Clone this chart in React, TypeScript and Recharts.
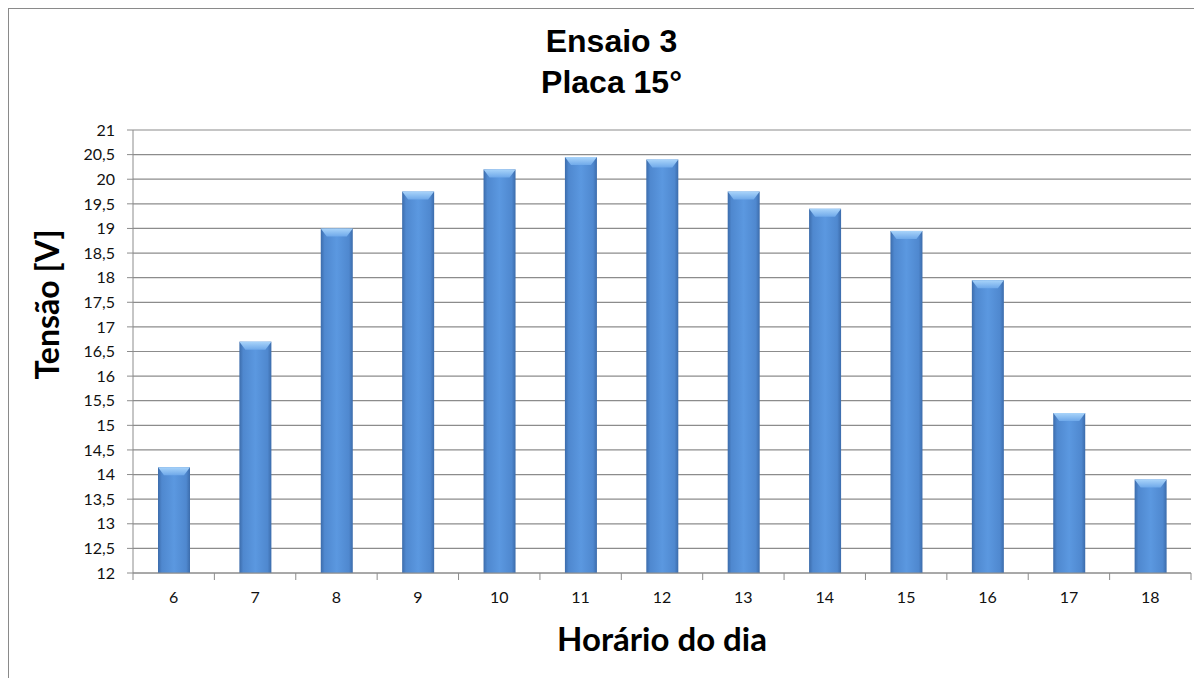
import { Bar, BarChart, CartesianGrid, XAxis, YAxis } from "recharts"

const hours = ["6", "7", "8", "9", "10", "11", "12", "13", "14", "15", "16", "17", "18"]
const tensao = [14.15, 16.7, 19.0, 19.75, 20.2, 20.45, 20.4, 19.75, 19.4, 18.95, 17.95, 15.25, 13.9]
const yTicks = [12, 12.5, 13, 13.5, 14, 14.5, 15, 15.5, 16, 16.5, 17, 17.5, 18, 18.5, 19, 19.5, 20, 20.5, 21]

const titleLines = ["Ensaio 3", "Placa 15°"]
const yTitle = "Tensão [V]"
const xTitle = "Horário do dia"

const data = hours.map((h, i) => ({ hora: h, tensao: tensao[i] }))

const GRID = "#8c8c8c"
const TICK_FONT = "Lato, 'Open Sans', sans-serif"

function GlossBar(props: any) {
  const { x, y, width, height } = props
  if (!height || height <= 0) return null
  const cap = Math.min(8, height)
  const inset = 6
  return (
    <g>
      <rect x={x} y={y} width={width} height={height} fill="url(#barGrad)" />
      <polygon
        points={`${x},${y} ${x + width},${y} ${x + width - inset},${y + cap} ${x + inset},${y + cap}`}
        fill="url(#capGrad)"
      />
    </g>
  )
}

function XTick(props: any) {
  const { x, y, payload, index, visibleTicksCount } = props
  const off = payload?.offset ?? 0
  const last = index === visibleTicksCount - 1
  return (
    <g>
      <line x1={x - off} x2={x - off} y1={y} y2={y + 7} stroke={GRID} strokeWidth={1} />
      {last && <line x1={x + off} x2={x + off} y1={y} y2={y + 7} stroke={GRID} strokeWidth={1} />}
      <text x={x} y={y + 30} textAnchor="middle" fontSize={16} fontFamily={TICK_FONT} fill="#111">
        {payload.value}
      </text>
      {index === 0 && (
        <text
          x={x - off + 529}
          y={y + 78}
          textAnchor="middle"
          fontSize={33}
          fontWeight="bold"
          fontFamily={TICK_FONT}
          fill="#000"
        >
          {xTitle}
        </text>
      )}
    </g>
  )
}

function YTitle(props: any) {
  const { viewBox } = props
  const cx = viewBox.x + 37
  const cy = viewBox.y + viewBox.height / 2 - 47
  return (
    <text
      x={cx}
      y={cy}
      transform={`rotate(-90 ${cx} ${cy})`}
      textAnchor="middle"
      dominantBaseline="central"
      fontSize={32}
      fontWeight="bold"
      fontFamily={TICK_FONT}
      fill="#000"
    >
      {yTitle}
    </text>
  )
}

export default function App() {
  return (
    <div
      style={{
        position: "relative",
        width: 1193,
        height: 669,
        borderTop: "1px solid #8a8a8a",
        borderLeft: "1px solid #8a8a8a",
        background: "#fff",
      }}
    >
      <div
        style={{
          position: "absolute",
          top: 12,
          left: 6,
          width: 1193,
          textAlign: "center",
          fontFamily: "'Liberation Sans', Arial, sans-serif",
          fontWeight: "bold",
          fontSize: 32,
          lineHeight: "41px",
          color: "#000",
        }}
      >
        {titleLines.map((t) => (
          <div key={t}>{t}</div>
        ))}
      </div>
      <BarChart
        width={1193}
        height={669}
        data={data}
        margin={{ top: 121, right: 11, bottom: 75, left: 0 }}
        style={{ position: "absolute", top: 0, left: 0 }}
      >
        <defs>
          <linearGradient id="barGrad" x1="0" y1="0" x2="1" y2="0">
            <stop offset="0%" stopColor="#3c6cab" />
            <stop offset="12%" stopColor="#4f88cf" />
            <stop offset="50%" stopColor="#5b98e0" />
            <stop offset="88%" stopColor="#4f88cf" />
            <stop offset="100%" stopColor="#3c6cab" />
          </linearGradient>
          <linearGradient id="capGrad" x1="0" y1="0" x2="0" y2="1">
            <stop offset="0%" stopColor="#a9d4fa" />
            <stop offset="100%" stopColor="#6fa9ea" />
          </linearGradient>
        </defs>
        <CartesianGrid vertical={false} stroke={GRID} strokeWidth={1.2} />
        <XAxis
          dataKey="hora"
          height={30}
          axisLine={{ stroke: GRID }}
          tickLine={false}
          tickSize={0}
          tickMargin={0}
          interval={0}
          tick={<XTick />}
        />
        <YAxis
          width={124}
          domain={[12, 21]}
          ticks={yTicks}
          interval={0}
          axisLine={{ stroke: GRID }}
          tickLine={{ stroke: GRID }}
          tickSize={6}
          tickMargin={12}
          tick={{ fontSize: 16, fontFamily: TICK_FONT, fill: "#111" }}
          tickFormatter={(v: number) => String(v).replace(".", ",")}
          label={{ content: <YTitle /> }}
        />
        <Bar dataKey="tensao" barSize={32} shape={<GlossBar />} isAnimationActive={false} />
      </BarChart>
    </div>
  )
}
